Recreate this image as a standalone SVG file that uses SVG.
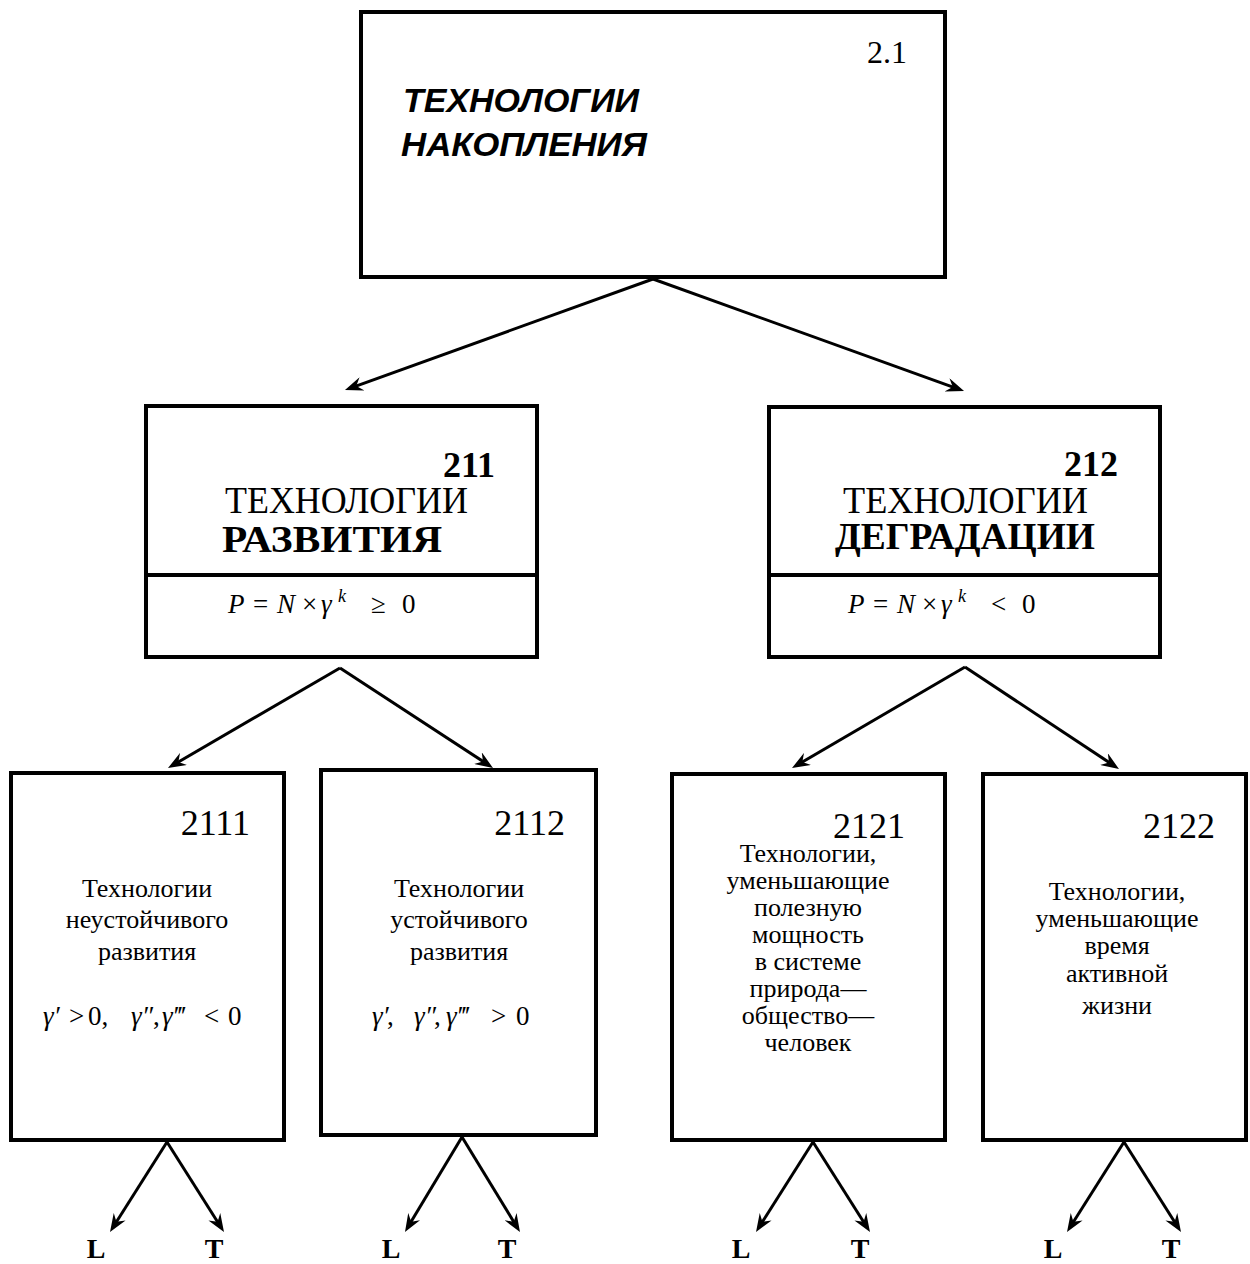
<svg xmlns="http://www.w3.org/2000/svg" width="1250" height="1264" viewBox="0 0 1250 1264">
  <style>
    .box { fill: #fff; stroke: #000; stroke-width: 4; }
    .div { stroke: #000; stroke-width: 4; }
    .conn { stroke: #000; stroke-width: 3; fill: none; marker-end: url(#head); }
    .serif { font-family: "Liberation Serif", "Times New Roman", serif; fill: #000; }
    .head { font-family: "Liberation Sans", Arial, sans-serif; font-weight: bold; font-style: italic; font-size: 33px; fill: #000; }
    .big { font-size: 37px; }
    .num { font-size: 36px; }
    .bold { font-weight: bold; }
    .txt { font-size: 26px; text-anchor: middle; }
    .it { font-style: italic; }
    .lt { font-size: 28px; font-weight: bold; text-anchor: middle; }
  </style>
  <defs>
    <marker id="head" markerUnits="userSpaceOnUse" viewBox="0 0 18 14" markerWidth="18" markerHeight="14" refX="10" refY="7" orient="auto">
      <path d="M18,7 L0,0 L6,7 L0,14 Z" fill="#000"/>
    </marker>
  </defs>
  <rect width="1250" height="1264" fill="#fff"/>

  <!-- connectors -->
  <g id="connectors">
    <line class="conn" x1="653" y1="279" x2="352.5" y2="387.3"/>
    <line class="conn" x1="653" y1="279" x2="956.5" y2="388.3"/>
    <line class="conn" x1="340" y1="668" x2="174.9" y2="764"/>
    <line class="conn" x1="340" y1="668" x2="486.3" y2="763.6"/>
    <line class="conn" x1="965" y1="667" x2="798.9" y2="764"/>
    <line class="conn" x1="965" y1="667" x2="1112.3" y2="764.6"/>
    <line class="conn" x1="167" y1="1142" x2="114.3" y2="1225.2"/>
    <line class="conn" x1="167" y1="1142" x2="219.7" y2="1225.2"/>
    <line class="conn" x1="462" y1="1137" x2="409.1" y2="1225.1"/>
    <line class="conn" x1="462" y1="1137" x2="515.8" y2="1225.2"/>
    <line class="conn" x1="813" y1="1142" x2="760.3" y2="1225.2"/>
    <line class="conn" x1="813" y1="1142" x2="865.7" y2="1225.2"/>
    <line class="conn" x1="1124" y1="1142" x2="1071.3" y2="1225.2"/>
    <line class="conn" x1="1124" y1="1142" x2="1176.7" y2="1225.2"/>
  </g>

  <!-- 2.1 -->
  <g id="node-2.1">
    <rect class="box" x="361" y="12" width="584" height="265"/>
    <text class="serif" x="867" y="63" font-size="32">2.1</text>
    <text class="head" x="403" y="112" textLength="236" lengthAdjust="spacingAndGlyphs">ТЕХНОЛОГИИ</text>
    <text class="head" x="401" y="156" textLength="246" lengthAdjust="spacingAndGlyphs">НАКОПЛЕНИЯ</text>
  </g>

  <!-- 211 -->
  <g id="node-211">
    <rect class="box" x="146" y="406" width="391" height="251"/>
    <line class="div" x1="146" y1="575" x2="537" y2="575"/>
    <text class="serif num bold" x="495" y="477" text-anchor="end">211</text>
    <text class="serif big" x="225" y="513" textLength="243" lengthAdjust="spacingAndGlyphs">ТЕХНОЛОГИИ</text>
    <text class="serif big bold" x="222" y="552" textLength="220" lengthAdjust="spacingAndGlyphs">РАЗВИТИЯ</text>
    <text class="serif" font-size="27" y="613"><tspan class="it" x="228">P</tspan><tspan x="253">=</tspan><tspan class="it" x="277">N</tspan><tspan x="302">×</tspan><tspan class="it" x="321">γ</tspan><tspan class="it" x="338" y="602" font-size="18">k</tspan><tspan x="371" y="613">≥</tspan><tspan x="402">0</tspan></text>
  </g>

  <!-- 212 -->
  <g id="node-212">
    <rect class="box" x="769" y="407" width="391" height="250"/>
    <line class="div" x1="769" y1="575" x2="1160" y2="575"/>
    <text class="serif num bold" x="1118" y="476" text-anchor="end">212</text>
    <text class="serif big" x="843" y="513" textLength="245" lengthAdjust="spacingAndGlyphs">ТЕХНОЛОГИИ</text>
    <text class="serif big bold" x="835" y="549" textLength="260" lengthAdjust="spacingAndGlyphs">ДЕГРАДАЦИИ</text>
    <text class="serif" font-size="27" y="613"><tspan class="it" x="848">P</tspan><tspan x="873">=</tspan><tspan class="it" x="897">N</tspan><tspan x="922">×</tspan><tspan class="it" x="941">γ</tspan><tspan class="it" x="958" y="602" font-size="18">k</tspan><tspan x="991" y="613">&lt;</tspan><tspan x="1022">0</tspan></text>
  </g>

  <!-- 2111 -->
  <g id="node-2111">
    <rect class="box" x="11" y="773" width="273" height="367"/>
    <text class="serif num" x="250" y="835" text-anchor="end">2111</text>
    <text class="serif txt" x="147" y="897">Технологии</text>
    <text class="serif txt" x="147" y="928">неустойчивого</text>
    <text class="serif txt" x="147" y="960">развития</text>
    <text class="serif" font-size="27" y="1025"><tspan class="it" x="43">γ′</tspan><tspan x="69">&gt;</tspan><tspan x="88">0,</tspan><tspan class="it" x="131">γ″</tspan><tspan x="153">,</tspan><tspan class="it" x="162">γ‴</tspan><tspan x="204">&lt;</tspan><tspan x="228">0</tspan></text>
  </g>

  <!-- 2112 -->
  <g id="node-2112">
    <rect class="box" x="321" y="770" width="275" height="365"/>
    <text class="serif num" x="565" y="835" text-anchor="end">2112</text>
    <text class="serif txt" x="459" y="897">Технологии</text>
    <text class="serif txt" x="459" y="928">устойчивого</text>
    <text class="serif txt" x="459" y="960">развития</text>
    <text class="serif" font-size="27" y="1025"><tspan class="it" x="372">γ′</tspan><tspan x="387">,</tspan><tspan class="it" x="414">γ″</tspan><tspan x="434">,</tspan><tspan class="it" x="446">γ‴</tspan><tspan x="491">&gt;</tspan><tspan x="516">0</tspan></text>
  </g>

  <!-- 2121 -->
  <g id="node-2121">
    <rect class="box" x="672" y="774" width="273" height="366"/>
    <text class="serif num" x="905" y="838" text-anchor="end">2121</text>
    <text class="serif txt" x="808" y="862">Технологии,</text>
    <text class="serif txt" x="808" y="889">уменьшающие</text>
    <text class="serif txt" x="808" y="916">полезную</text>
    <text class="serif txt" x="808" y="943">мощность</text>
    <text class="serif txt" x="808" y="970">в системе</text>
    <text class="serif txt" x="808" y="997">природа—</text>
    <text class="serif txt" x="808" y="1024">общество—</text>
    <text class="serif txt" x="808" y="1051">человек</text>
  </g>

  <!-- 2122 -->
  <g id="node-2122">
    <rect class="box" x="983" y="774" width="263" height="366"/>
    <text class="serif num" x="1215" y="838" text-anchor="end">2122</text>
    <text class="serif txt" x="1117" y="900">Технологии,</text>
    <text class="serif txt" x="1117" y="927">уменьшающие</text>
    <text class="serif txt" x="1117" y="954">время</text>
    <text class="serif txt" x="1117" y="982">активной</text>
    <text class="serif txt" x="1117" y="1014">жизни</text>
  </g>

  <!-- L / T outcome labels -->
  <g id="labels">
    <text class="serif lt" x="96" y="1258">L</text>
    <text class="serif lt" x="214" y="1258">T</text>
    <text class="serif lt" x="391" y="1258">L</text>
    <text class="serif lt" x="507" y="1258">T</text>
    <text class="serif lt" x="741" y="1258">L</text>
    <text class="serif lt" x="860" y="1258">T</text>
    <text class="serif lt" x="1053" y="1258">L</text>
    <text class="serif lt" x="1171" y="1258">T</text>
  </g>
</svg>
